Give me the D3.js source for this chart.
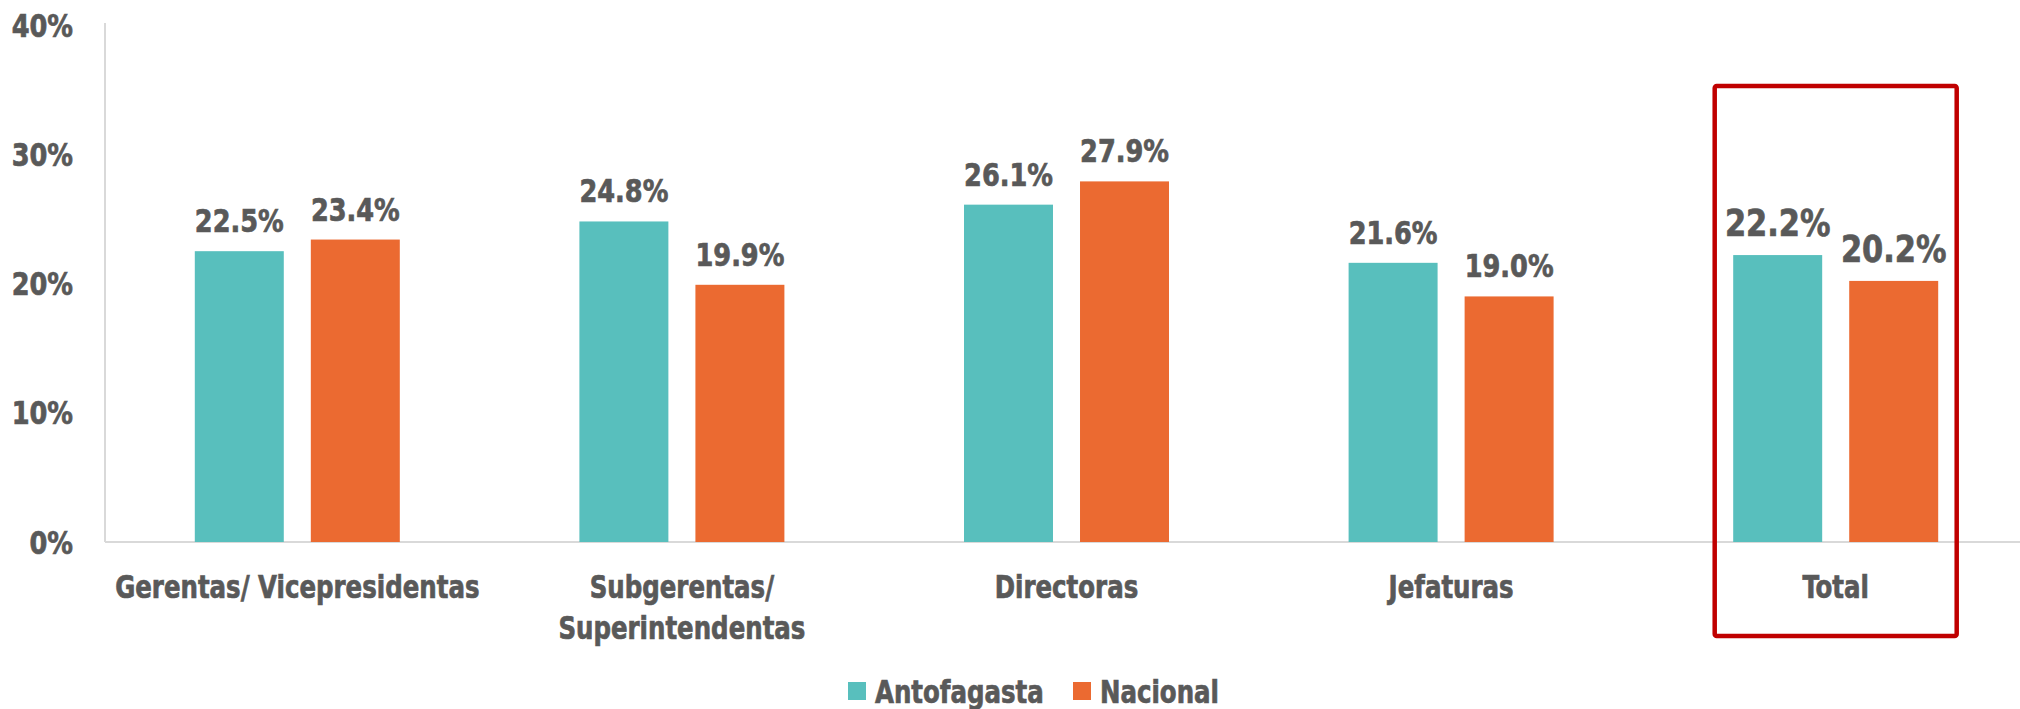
<!DOCTYPE html>
<html>
<head>
<meta charset="utf-8">
<script src="https://cdn.jsdelivr.net/npm/d3@7"></script>
<style>
  html, body { margin: 0; padding: 0; background: #fff; }
  svg { display: block; }
  text { font-family: "DejaVu Sans Condensed", "DejaVu Sans", sans-serif; font-stretch: condensed; font-weight: bold; fill: #595959; stroke: #595959; stroke-width: 0.7px; }
</style>
</head>
<body>
<svg id="chart"></svg>
<script>
const categories = ['Gerentas/ Vicepresidentas', 'Subgerentas/ Superintendentas', 'Directoras', 'Jefaturas', 'Total'];
const categoryLines = [['Gerentas/ Vicepresidentas'], ['Subgerentas/', 'Superintendentas'], ['Directoras'], ['Jefaturas'], ['Total']];
const seriesNames = ['Antofagasta', 'Nacional'];
const antofagasta = [22.5, 24.8, 26.1, 21.6, 22.2];
const nacional = [23.4, 19.9, 27.9, 19.0, 20.2];
const yTicks = [0, 10, 20, 30, 40];
const highlighted = 'Total';

const width = 2020;
const height = 709;
const colors = { Antofagasta: '#58bfbd', Nacional: '#eb6a31' };
// the reference face is narrower than DejaVu, so squeeze text horizontally
const squeezeWords = 0.85;
const squeezeNums = 0.89;

const rows = categories.map((c, i) => ({
  category: c,
  lines: categoryLines[i],
  values: [
    { key: 'Antofagasta', value: antofagasta[i] },
    { key: 'Nacional', value: nacional[i] }
  ]
}));

const svg = d3.select('#chart')
  .attr('width', width)
  .attr('height', height);

const x0 = d3.scaleBand()
  .domain(categories)
  .range([105, 2028]);

const groupWidth = 205;
const x1 = d3.scaleBand()
  .domain(seriesNames)
  .range([(x0.bandwidth() - groupWidth) / 2, (x0.bandwidth() + groupWidth) / 2])
  .paddingInner(0.233);

const y = d3.scaleLinear()
  .domain([0, 40])
  .range([542, 25]);

// y axis labels
svg.append('g')
  .selectAll('text')
  .data(yTicks)
  .join('text')
  .attr('transform', d => `translate(73,${y(d)}) scale(${squeezeNums},1)`)
  .attr('dy', '0.36em')
  .attr('text-anchor', 'end')
  .attr('font-size', 32)
  .text(d => d + '%');

// axis lines
svg.append('line')
  .attr('x1', 105).attr('x2', 105)
  .attr('y1', 23).attr('y2', y(0))
  .attr('stroke', '#d9d9d9').attr('stroke-width', 2);

svg.append('line')
  .attr('x1', 105).attr('x2', width)
  .attr('y1', y(0)).attr('y2', y(0))
  .attr('stroke', '#d9d9d9').attr('stroke-width', 2);

const group = svg.append('g')
  .selectAll('g')
  .data(rows)
  .join('g')
  .attr('transform', d => `translate(${x0(d.category)},0)`);

group.selectAll('rect')
  .data(d => d.values)
  .join('rect')
  .attr('x', d => x1(d.key))
  .attr('y', d => y(d.value))
  .attr('width', x1.bandwidth())
  .attr('height', d => y(0) - y(d.value))
  .attr('fill', d => colors[d.key]);

group.each(function(row) {
  const big = row.category === highlighted;
  d3.select(this).selectAll('text.value')
    .data(row.values)
    .join('text')
    .attr('class', 'value')
    .attr('transform', d => `translate(${x1(d.key) + x1.bandwidth() / 2},${y(d.value) - 19}) scale(${squeezeNums},1)`)
    .attr('text-anchor', 'middle')
    .attr('font-size', big ? 38 : 32)
    .text(d => d.value.toFixed(1) + '%');
});

// category labels
group.append('text')
  .attr('transform', `translate(${x0.bandwidth() / 2},0) scale(${squeezeWords},1)`)
  .attr('text-anchor', 'middle')
  .attr('font-size', 32)
  .selectAll('tspan')
  .data(d => d.lines)
  .join('tspan')
  .attr('x', 0)
  .attr('y', (d, i) => 598 + i * 41)
  .text(d => d);

// highlight box around Total
svg.append('rect')
  .attr('x', x0(highlighted) + x0.bandwidth() / 2 - 121)
  .attr('y', 86)
  .attr('width', 242)
  .attr('height', 550)
  .attr('rx', 2)
  .attr('fill', 'none')
  .attr('stroke', '#c00000')
  .attr('stroke-width', 4.5);

// legend
const legend = svg.append('g')
  .attr('transform', 'translate(848,682)');

const legendX = [0, 225];
const item = legend.selectAll('g')
  .data(seriesNames)
  .join('g')
  .attr('transform', (d, i) => `translate(${legendX[i]},0)`);

item.append('rect')
  .attr('width', 18)
  .attr('height', 18)
  .attr('fill', d => colors[d]);

item.append('text')
  .attr('transform', `translate(27,9) scale(${squeezeWords},1)`)
  .attr('dy', '0.36em')
  .attr('font-size', 32)
  .text(d => d);
</script>
</body>
</html>
